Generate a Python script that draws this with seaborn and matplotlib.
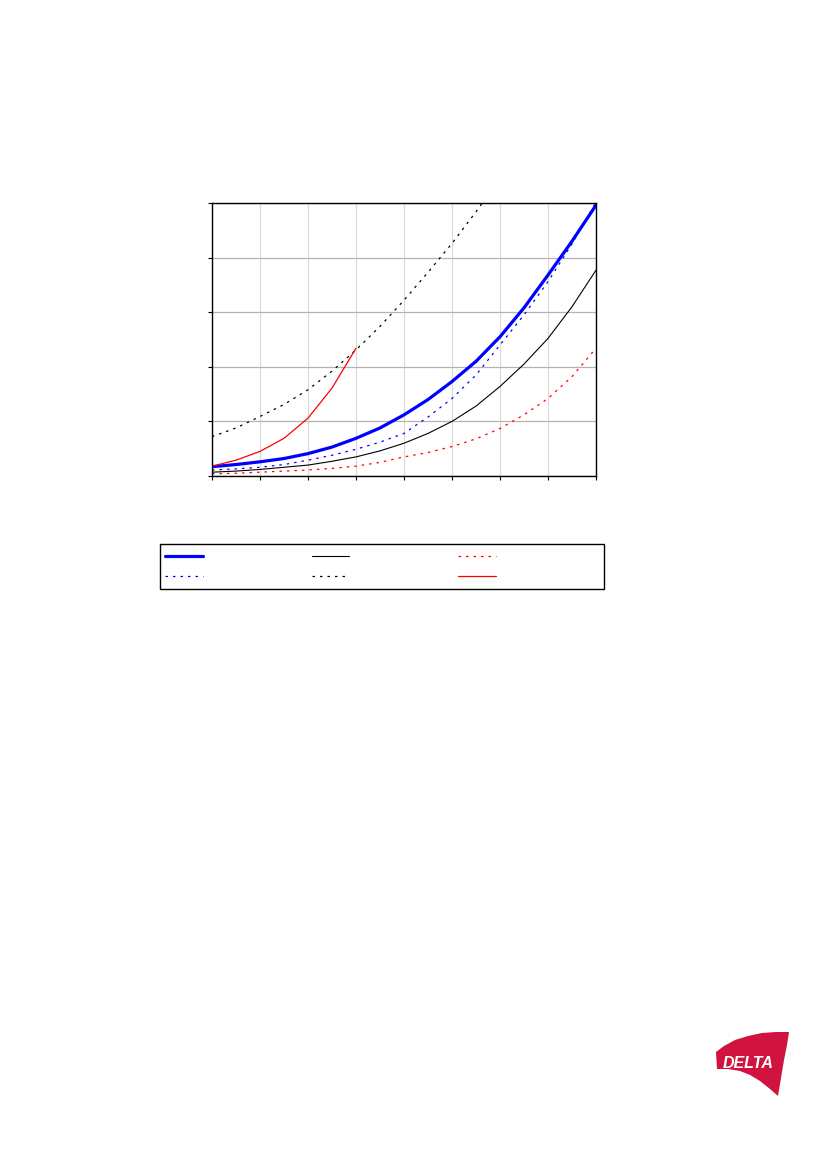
import matplotlib
matplotlib.use('Agg')
import matplotlib.pyplot as plt
from matplotlib.patches import Polygon, Rectangle
from matplotlib.lines import Line2D
import seaborn as sns
import pandas as pd

# values (x in grid units 0..8, y in grid units 0..5)
x_full = [0, 0.5, 1, 1.5, 2, 2.5, 3, 3.5, 4, 4.5, 5, 5.5, 6, 6.5, 7, 7.5, 8]
blue_solid = [0.17, 0.21, 0.26, 0.32, 0.41, 0.53, 0.69, 0.88, 1.12, 1.40, 1.73, 2.10, 2.55, 3.08, 3.68, 4.30, 4.96]
blue_dotted = [0.11, 0.13, 0.16, 0.21, 0.29, 0.38, 0.49, 0.62, 0.78, 1.08, 1.42, 1.85, 2.40, 2.95, 3.56, 4.25, 5.02]
black_solid = [0.07, 0.09, 0.12, 0.16, 0.20, 0.27, 0.35, 0.46, 0.60, 0.78, 1.00, 1.28, 1.64, 2.05, 2.52, 3.10, 3.77]
red_dotted = [0.04, 0.05, 0.07, 0.09, 0.11, 0.14, 0.18, 0.25, 0.35, 0.43, 0.54, 0.68, 0.87, 1.12, 1.42, 1.82, 2.34]

x_black_dotted = [0, 0.5, 1, 1.5, 2, 2.5, 3, 3.5, 4, 4.5, 5, 5.5, 6]
black_dotted = [0.72, 0.88, 1.09, 1.31, 1.58, 1.92, 2.31, 2.74, 3.22, 3.73, 4.26, 4.84, 5.45]

x_red_solid = [0, 0.5, 1, 1.5, 2, 2.5, 3]
red_solid = [0.18, 0.29, 0.45, 0.69, 1.06, 1.61, 2.34]

x_ticks = list(range(9))
y_ticks = list(range(6))

series = [
    ('blue_solid', x_full, blue_solid, '#0000ff', 2.3, '-'),
    ('blue_dotted', x_full, blue_dotted, '#0000ff', 0.9, (0, (2, 4))),
    ('black_solid', x_full, black_solid, '#000000', 0.8, '-'),
    ('black_dotted', x_black_dotted, black_dotted, '#000000', 0.9, (0, (2, 4))),
    ('red_dotted', x_full, red_dotted, '#ff0000', 0.9, (0, (2, 4))),
    ('red_solid', x_red_solid, red_solid, '#ff0000', 0.9, '-'),
]

sns.set_theme(style='white')
plt.rcParams['font.family'] = ['DejaVu Sans']

W, H = 826, 1169
fig = plt.figure(figsize=(W / 100, H / 100), dpi=100)
ax = fig.add_axes([212 / W, 1 - 476 / H, 384 / W, 273 / H])

handles = {}
for name, xs, ys, col, lw, ls in series:
    df = pd.DataFrame({'x': xs, 'y': ys})
    sns.lineplot(data=df, x='x', y='y', ax=ax, color=col, linewidth=lw,
                 linestyle=ls, sort=True, estimator=None)
    handles[name] = Line2D([], [], color=col, linewidth=lw, linestyle=ls)

ax.set_xlim(0, 8)
ax.set_ylim(0, 5)
ax.set_xticks(x_ticks)
ax.set_yticks(y_ticks)
ax.set_xticklabels([])
ax.set_yticklabels([])
ax.set_xlabel('')
ax.set_ylabel('')
ax.yaxis.grid(True, color='#b4b4b4', linewidth=0.9)
ax.xaxis.grid(True, color='#dadada', linewidth=0.9)
ax.set_axisbelow(True)
for s in ax.spines.values():
    s.set_color('black')
    s.set_linewidth(1.0)
ax.tick_params(axis='both', which='both', direction='out', length=3,
               width=0.8, color='black', left=True, bottom=True)

# legend: three columns, labels left blank as in the reference
order = ['blue_solid', 'blue_dotted', 'black_solid', 'black_dotted', 'red_dotted', 'red_solid']
leg = fig.legend([handles[k] for k in order], [' '] * 6, ncol=3,
                 loc='upper left', bbox_to_anchor=(165 / W, 1 - 550 / H),
                 borderaxespad=0, borderpad=0, fontsize=9, handlelength=3.0,
                 handletextpad=0.8, columnspacing=7.6, labelspacing=0.58,
                 frameon=False)
fig.add_artist(Rectangle((160 / W, 1 - 589 / H), 444 / W, 45 / H,
                         transform=fig.transFigure, fill=False,
                         edgecolor='black', linewidth=1.0))

# DELTA logo, bottom right
logo_px = [(716, 1052), (724, 1046), (735, 1040), (748, 1036), (762, 1033), (776, 1032), (789, 1032),
           (787, 1045), (784, 1060), (781, 1078), (778, 1096),
           (770, 1089), (760, 1081), (750, 1075), (740, 1071), (728, 1069), (717, 1069)]
logo = Polygon([(px / W, 1 - py / H) for px, py in logo_px], closed=True,
               transform=fig.transFigure, facecolor='#d0143f', edgecolor='none')
fig.add_artist(logo)
fig.text(748 / W, 1 - 1064 / H, 'DELTA', color='white', fontsize=11.5,
         fontweight='bold', fontstyle='italic', ha='center', va='center',
         family=['Liberation Sans', 'DejaVu Sans'])

fig.savefig('out.png', dpi=100, facecolor='white')
